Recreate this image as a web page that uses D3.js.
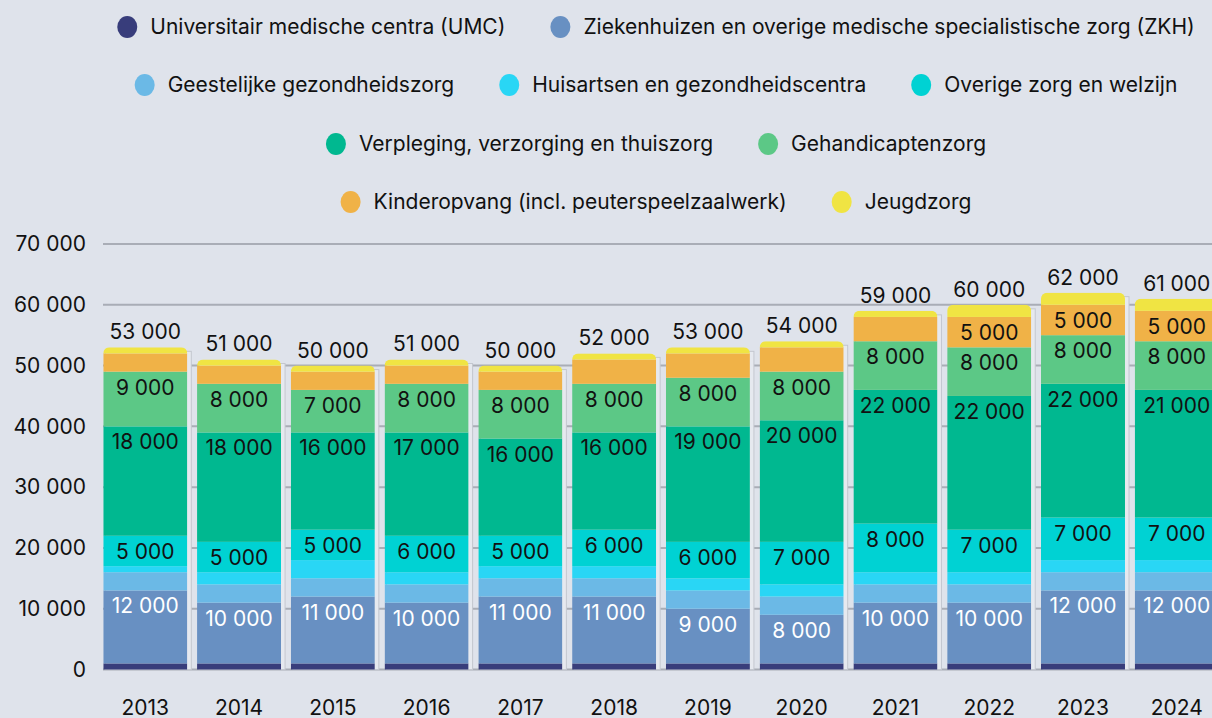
<!DOCTYPE html>
<html>
<head>
<meta charset="utf-8">
<script src="https://cdn.jsdelivr.net/npm/d3@7"></script>
<style>
  body { margin: 0; background: #dfe3eb; }
  svg { display: block; font-family: Inter, "Noto Sans", sans-serif; }
</style>
</head>
<body>
<svg></svg>
<script>
var years = ['2013','2014','2015','2016','2017','2018','2019','2020','2021','2022','2023','2024'];

var umc     = [1000,1000,1000,1000,1000,1000,1000,1000,1000,1000,1000,1000];
var zkh     = [12000,10000,11000,10000,11000,11000,9000,8000,10000,10000,12000,12000];
var ggz     = [3000,3000,3000,3000,3000,3000,3000,3000,3000,3000,3000,3000];
var huis    = [1000,2000,3000,2000,2000,2000,2000,2000,2000,2000,2000,2000];
var overig  = [5000,5000,5000,6000,5000,6000,6000,7000,8000,7000,7000,7000];
var vvt     = [18000,18000,16000,17000,16000,16000,19000,20000,22000,22000,22000,21000];
var gehand  = [9000,8000,7000,8000,8000,8000,8000,8000,8000,8000,8000,8000];
var kinder  = [3000,3000,3000,3000,3000,4000,4000,4000,4000,5000,5000,5000];
var jeugd   = [1000,1000,1000,1000,1000,1000,1000,1000,1000,2000,2000,2000];
var totals  = [53000,51000,50000,51000,50000,52000,53000,54000,59000,60000,62000,61000];

var seriesNames = [
	'Universitair medische centra (UMC)',
	'Ziekenhuizen en overige medische specialistische zorg (ZKH)',
	'Geestelijke gezondheidszorg',
	'Huisartsen en gezondheidscentra',
	'Overige zorg en welzijn',
	'Verpleging, verzorging en thuiszorg',
	'Gehandicaptenzorg',
	'Kinderopvang (incl. peuterspeelzaalwerk)',
	'Jeugdzorg'
];
var seriesKeys = ['umc','zkh','ggz','huis','overig','vvt','gehand','kinder','jeugd'];
var seriesValues = [umc, zkh, ggz, huis, overig, vvt, gehand, kinder, jeugd];
var legendRows = [[0,1],[2,3,4],[5,6],[7,8]];
var yTicks = [0,10000,20000,30000,40000,50000,60000,70000];

var width = 1212;
var height = 718;
var fontSize = 21;

var color = {
	umc: '#383d7b',
	zkh: '#6890c2',
	ggz: '#6bb9e6',
	huis: '#29d6f5',
	overig: '#00d2d3',
	vvt: '#00b890',
	gehand: '#5cc886',
	kinder: '#f0b247',
	jeugd: '#f0e443'
};

var table = years.map(function(y, i){
	var row = {year: y, total: totals[i]};
	seriesKeys.forEach(function(k, j){ row[k] = seriesValues[j][i]; });
	return row;
});

var locale = d3.formatLocale({decimal: ',', thousands: ' ', grouping: [3], currency: ['€','']});
var fmt = locale.format(',.0f');

var svg = d3.select('svg')
	.attr('width', width)
	.attr('height', height);

var xScale = d3.scaleBand()
	.domain(years)
	.range([98.4, 98.4 + 12 * 93.77])
	.paddingInner(0.104)
	.paddingOuter(0.052);

var yScale = d3.scaleLinear()
	.domain([0, 70000])
	.range([669.5, 244]);

var stack = d3.stack().keys(seriesKeys)(table);

// gridlines
svg.append('g')
	.selectAll('line')
	.data(yTicks)
	.enter()
	.append('line')
	.attr('x1', 103)
	.attr('x2', width)
	.attr('y1', d => yScale(d))
	.attr('y2', d => yScale(d))
	.attr('stroke', '#a9adb6')
	.attr('stroke-width', 2);

// y axis labels
var yAxis = svg.append('g')
	.attr('transform', 'translate(86,0)')
	.call(d3.axisLeft(yScale).tickValues(yTicks).tickFormat(fmt).tickSize(0).tickPadding(0));
yAxis.select('.domain').remove();
yAxis.selectAll('text')
	.attr('font-size', fontSize)
	.attr('font-family', 'Inter, sans-serif')
	.attr('fill', '#111');

// x axis labels
var xAxis = svg.append('g')
	.attr('transform', 'translate(0,694)')
	.call(d3.axisBottom(xScale).tickSize(0).tickPadding(0));
xAxis.select('.domain').remove();
xAxis.selectAll('text')
	.attr('font-size', fontSize)
	.attr('font-family', 'Inter, sans-serif')
	.attr('fill', '#111')
	.attr('dy', '1em');

// light strip beside each bar
svg.append('g')
	.selectAll('rect')
	.data(table)
	.enter()
	.append('rect')
	.attr('x', d => xScale(d.year) + 2)
	.attr('y', d => yScale(d.total) + 4)
	.attr('width', xScale.bandwidth() + 2)
	.attr('height', d => yScale(0) - yScale(d.total) - 4)
	.attr('fill', '#e6e9ef')
	.attr('stroke', '#c3c7cf')
	.attr('stroke-width', 1);

// clip paths for rounded tops
var defs = svg.append('defs');
defs.selectAll('clipPath')
	.data(table)
	.enter()
	.append('clipPath')
	.attr('id', (d, i) => 'clip' + i)
	.append('rect')
	.attr('x', d => xScale(d.year))
	.attr('y', d => yScale(d.total))
	.attr('width', xScale.bandwidth())
	.attr('height', d => yScale(0) - yScale(d.total) + 10)
	.attr('rx', 6);

var barGroups = svg.append('g')
	.selectAll('g')
	.data(table)
	.enter()
	.append('g')
	.attr('clip-path', (d, i) => 'url(#clip' + i + ')');

barGroups.each(function(d, i){
	var g = d3.select(this);
	stack.forEach(function(s){
		g.append('rect')
			.attr('x', xScale(d.year))
			.attr('y', yScale(s[i][1]))
			.attr('width', xScale.bandwidth())
			.attr('height', yScale(s[i][0]) - yScale(s[i][1]))
			.attr('fill', color[s.key]);
	});
});

// segment labels
var labelData = [];
stack.forEach(function(s){
	s.forEach(function(seg, i){
		var v = seg.data[s.key];
		if (v >= 5000) {
			labelData.push({key: s.key, year: seg.data.year, top: seg[1], value: v});
		}
	});
});

svg.append('g')
	.selectAll('text')
	.data(labelData)
	.enter()
	.append('text')
	.attr('x', d => xScale(d.year) + xScale.bandwidth() / 2)
	.attr('y', d => yScale(d.top) + 23)
	.attr('text-anchor', 'middle')
	.attr('font-size', fontSize)
	.attr('fill', d => d.key === 'zkh' ? '#ffffff' : '#111')
	.text(d => fmt(d.value));

// totals
svg.append('g')
	.selectAll('text')
	.data(table)
	.enter()
	.append('text')
	.attr('x', d => xScale(d.year) + xScale.bandwidth() / 2)
	.attr('y', d => yScale(d.total) - 8)
	.attr('text-anchor', 'middle')
	.attr('font-size', fontSize)
	.attr('fill', '#111')
	.text(d => fmt(d.total));

// legend
var legendY = [27, 85, 144, 202];
var legendCenter = 656;
var legend = svg.append('g');
legendRows.forEach(function(row, r){
	var rowG = legend.append('g');
	var x = 0;
	row.forEach(function(idx, n){
		var item = rowG.append('g').attr('transform', 'translate(' + x + ',0)');
		item.append('ellipse')
			.attr('cx', 10)
			.attr('cy', 0)
			.attr('rx', 10)
			.attr('ry', 11)
			.attr('fill', color[seriesKeys[idx]]);
		var t = item.append('text')
			.attr('x', 33)
			.attr('y', 7)
			.attr('font-size', fontSize)
			.attr('fill', '#111')
			.text(seriesNames[idx]);
		x += 33 + t.node().getComputedTextLength() + 45;
	});
	var rowWidth = x - 45;
	rowG.attr('transform', 'translate(' + (legendCenter - rowWidth / 2) + ',' + legendY[r] + ')');
});
</script>
</body>
</html>
